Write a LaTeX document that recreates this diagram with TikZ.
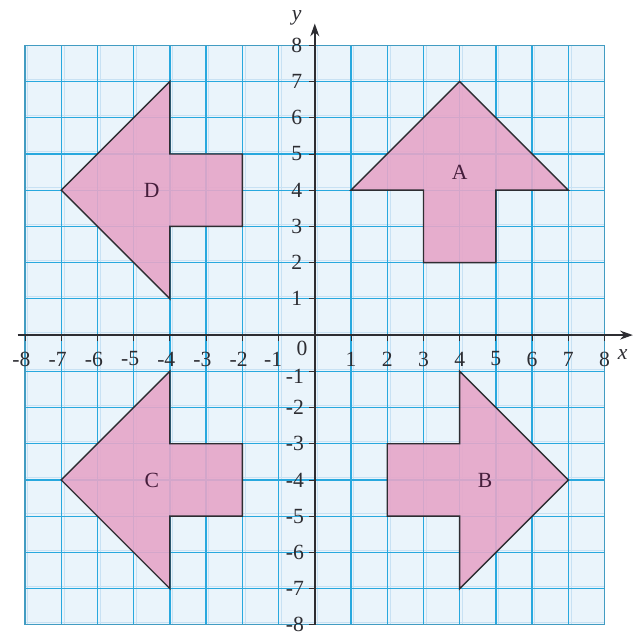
\documentclass[tikz,border=0pt]{standalone}
\usepackage{fontspec}
\setmainfont{Liberation Serif}
\usetikzlibrary{arrows.meta}
\definecolor{bgblue}{RGB}{234,244,251}
\definecolor{gridblue}{RGB}{40,168,222}
\definecolor{minorblue}{RGB}{200,225,243}
\definecolor{shapepink}{RGB}{230,166,200}
\definecolor{axisgrey}{RGB}{45,45,50}
\definecolor{lettercol}{RGB}{70,30,60}
\tikzset{
  shapefill/.style={fill=shapepink, fill opacity=0.9, draw=axisgrey, line width=1.1pt, line join=miter},
  axisline/.style={draw=axisgrey, line width=1.4pt, -{Stealth[length=10pt,width=7pt]}},
  ticklab/.style={font=\fontsize{17}{17}\selectfont, text=axisgrey, inner sep=0pt},
  shapelab/.style={font=\fontsize{17}{17}\selectfont, text=lettercol, inner sep=0pt}
}
\begin{document}
\begin{tikzpicture}
\useasboundingbox (-8.69,-8.23) rectangle (8.84,9.25);
\fill[white] (-8.69,-8.23) rectangle (8.84,9.25);
\fill[bgblue] (-8,-8) rectangle (8,8);
% faint companion lines
\foreach \i in {-7.93,-6.93,...,7.1} {
  \draw[minorblue, line width=0.3pt] (\i,-8) -- (\i,8);
  \draw[minorblue, line width=0.3pt] (-8,\i) -- (8,\i);
}
% major lines
\foreach \i in {-7,...,7} {
  \draw[gridblue, line width=1pt] (\i,-8) -- (\i,8);
  \draw[gridblue, line width=1pt] (-8,\i) -- (8,\i);
}
\draw[gridblue!70!gray, line width=0.9pt] (-8,-8) rectangle (8,8);
% shapes
\path[shapefill] (1,4) -- (4,7) -- (7,4) -- (5,4) -- (5,2) -- (3,2) -- (3,4) -- cycle;
\path[shapefill] (4,-1) -- (7,-4) -- (4,-7) -- (4,-5) -- (2,-5) -- (2,-3) -- (4,-3) -- cycle;
\path[shapefill] (-4,-1) -- (-7,-4) -- (-4,-7) -- (-4,-5) -- (-2,-5) -- (-2,-3) -- (-4,-3) -- cycle;
\path[shapefill] (-4,7) -- (-7,4) -- (-4,1) -- (-4,3) -- (-2,3) -- (-2,5) -- (-4,5) -- cycle;
\node[shapelab] (labA) at (4,4.5) {A};
\node[shapelab] (labB) at (4.7,-4) {B};
\node[shapelab] (labC) at (-4.5,-4) {C};
\node[shapelab] (labD) at (-4.5,4) {D};
% axes
\coordinate (xs) at (-8.2,0);
\coordinate (xe) at (8.78,0);
\coordinate (ys) at (0,-8);
\coordinate (ye) at (0,8.6);
\draw[axisline] (xs) -- (xe);
\draw[axisline] (ys) -- (ye);
\node[font=\itshape\fontsize{17}{17}\selectfont, text=axisgrey, inner sep=0pt] (xlab) at (8.5,-0.55) {x};
\node[font=\itshape\fontsize{17}{17}\selectfont, text=axisgrey, inner sep=0pt] (ylab) at (-0.5,8.75) {y};
% ticks and labels
\foreach \i in {1,...,8} {
  \draw[axisgrey, line width=0.7pt] (\i,0) -- (\i,-0.15);
  \draw[axisgrey, line width=0.7pt] (-\i,0) -- (-\i,-0.15);
  \draw[axisgrey, line width=0.7pt] (0,\i) -- (-0.15,\i);
  \draw[axisgrey, line width=0.7pt] (0,-\i) -- (-0.15,-\i);
  \node[ticklab] at (\i,-0.66) {\i};
  \node[ticklab] at (-0.5,\i) {\i};
}
\foreach \i in {2,...,7} {
  \node[ticklab] at (-\i,-0.66) {\llap{-}\i};
  \node[ticklab] at (-0.45,-\i) {\llap{-}\i};
}
\node[ticklab] at (-8,-0.66) {\llap{-}8};
\node[ticklab] at (-0.45,-7.98) {\llap{-}8};
\node[ticklab] at (-1.05,-0.66) {\llap{-}1};
\node[ticklab] at (-0.45,-1.15) {\llap{-}1};
\node[ticklab] at (-0.35,-0.38) {0};
\end{tikzpicture}
\end{document}
